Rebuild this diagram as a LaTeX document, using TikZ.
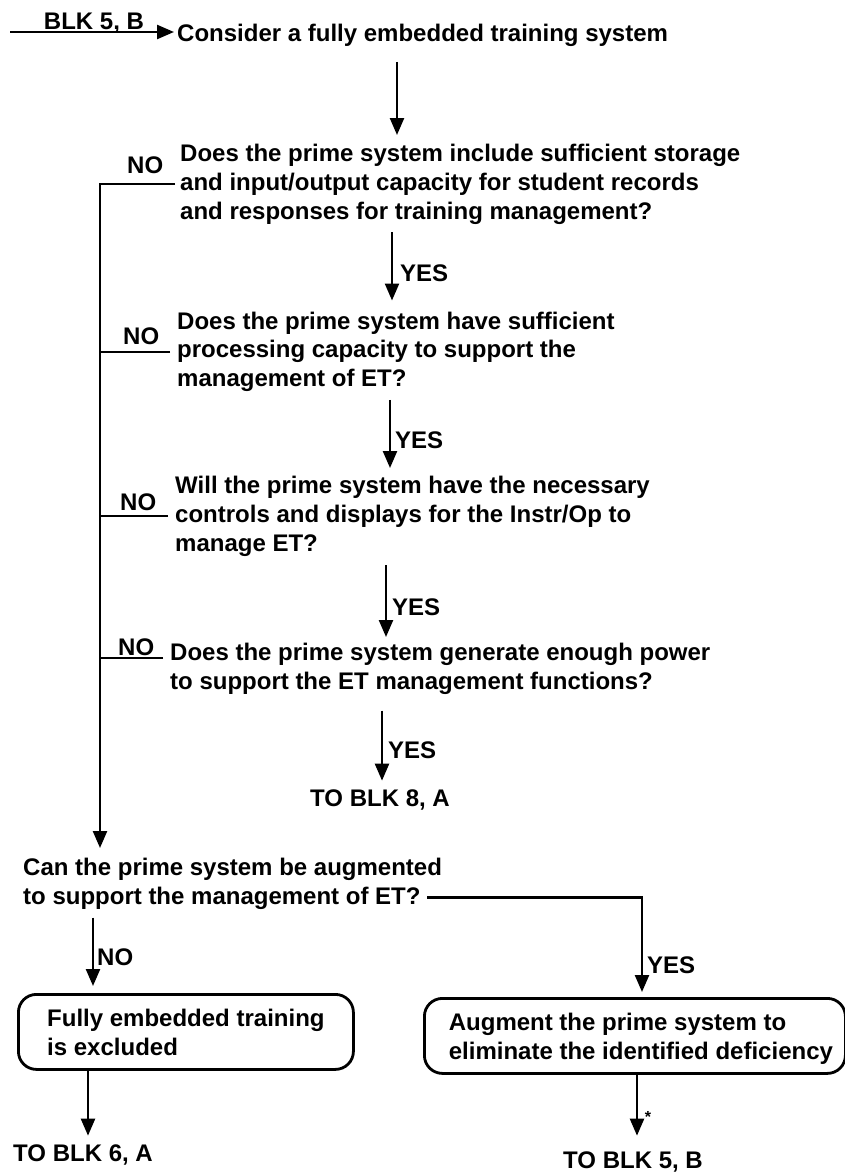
\documentclass[tikz,border=0pt]{standalone}
\usepackage{fontspec}
\setmainfont{Liberation Sans}
\usetikzlibrary{arrows.meta}
\begin{document}
\begin{tikzpicture}[x=1pt,y=-1pt,
  every node/.style={font=\bfseries\fontsize{24}{28.8}\selectfont, inner sep=0pt},
  txt/.style={anchor=north west, align=left},
  lbl/.style={anchor=base},
  lblw/.style={anchor=base west},
  conn/.style={line width=2.4pt},
  arr/.style={conn, -{Triangle[width=14pt,length=17pt]}},
  box/.style={draw, line width=2.8pt, rounded corners=18pt, anchor=north west,
              minimum height=75pt, align=left, text depth=0pt}]
\useasboundingbox (0,0) rectangle (845,1172);

% x position of the vertical NO line
\coordinate (sp) at (100,0);

% questions
\node[txt] (q0) at (177,24) {Consider a fully embedded training system};
\node[txt] (q1) at (180,144) {Does the prime system include sufficient storage\\and input/output capacity for student records\\and responses for training management?};
\node[txt] (q2) at (177,311.5) {Does the prime system have sufficient\\processing capacity to support the\\management of ET?};
\node[txt] (q3) at (175,476) {Will the prime system have the necessary\\controls and displays for the Instr/Op to\\manage ET?};
\node[txt] (q4) at (170,643) {Does the prime system generate enough power\\to support the ET management functions?};
\node[txt] (q5) at (23,858) {Can the prime system be augmented\\to support the management of ET?};

% outcome boxes
\node[box, minimum width=335pt] (b1) at (17,993) {Fully embedded training\\is excluded};
\node[box, minimum width=421pt] (b2) at (423,997) {\hspace*{12pt}Augment the prime system to\\\hspace*{12pt}eliminate the identified deficiency};

% off-page references
\coordinate (in) at (10,32);
\node[lbl] (blk) at (94,29.5) {BLK 5, B};
\node[lbl] (t8) at (380,806.6) {TO BLK 8, A};
\node[lbl] (t6) at (83,1161.6) {TO BLK 6, A};
\node[lbl] (t5) at (633,1168.6) {TO BLK 5, B};

% branch labels
\node[lblw] (n1) at (127,173.6) {NO};
\node[lblw] (n2) at (123,344.6) {NO};
\node[lblw] (n3) at (120,510.6) {NO};
\node[lblw] (n4) at (118,655.6) {NO};
\node[lblw] (y1) at (400,281.6) {YES};
\node[lblw] (y2) at (395,448.6) {YES};
\node[lblw] (y3) at (392,615.6) {YES};
\node[lblw] (y4) at (388,758.6) {YES};
\node[lblw] (n5) at (97,965.6) {NO};
\node[lblw] (y5) at (647,973.6) {YES};
\node[font=\bfseries\fontsize{16}{16}\selectfont] (ast) at (648,1117) {*};

% entry arrow
\draw[arr, shorten >=3pt] (in) -- (in -| q0.west);

% YES chain
\draw[arr, shorten <=15pt, shorten >=9pt] (q0.south -| 397,0) -- (q1.north -| 397,0);
\draw[arr, shorten <=8pt, shorten >=11pt] (q1.south -| 392,0) -- (q2.north -| 392,0);
\draw[arr, shorten <=8pt, shorten >=8pt] (q2.south -| 390,0) -- (q3.north -| 390,0);
\draw[arr, shorten <=9pt, shorten >=6pt] (q3.south -| 386,0) -- (q4.north -| 386,0);
\draw[arr, shorten <=16pt, shorten >=9pt] (q4.south -| 382,0) -- (t8.north -| 382,0);

% NO branches onto the common line
\draw[arr, shorten >=10pt] ([xshift=-5pt]q1.west) -| (q5.north -| sp);
\draw[conn] ([xshift=-7pt]q2.west) -- (q2.west -| sp);
\draw[conn] ([xshift=-7pt]q3.west) -- (q3.west -| sp);
\draw[conn] ([shift={(-7pt,-15pt)}]q4.north west) -- ([yshift=-15pt]q4.north west -| sp);

% augmentation decision
\draw[arr, shorten <=8pt, shorten >=7pt] (q5.south -| 93,0) -- (b1.north -| 93,0);
\draw[arr, shorten >=5pt] ([shift={(-15pt,12pt)}]q5.south east) -| (b2.north -| 642,0);

% exits
\draw[arr, shorten >=9pt] (b1.south -| 88,0) -- (t6.north -| 88,0);
\draw[arr, shorten >=16pt] (b2.south -| 637,0) -- (t5.north -| 637,0);
\end{tikzpicture}
\end{document}
